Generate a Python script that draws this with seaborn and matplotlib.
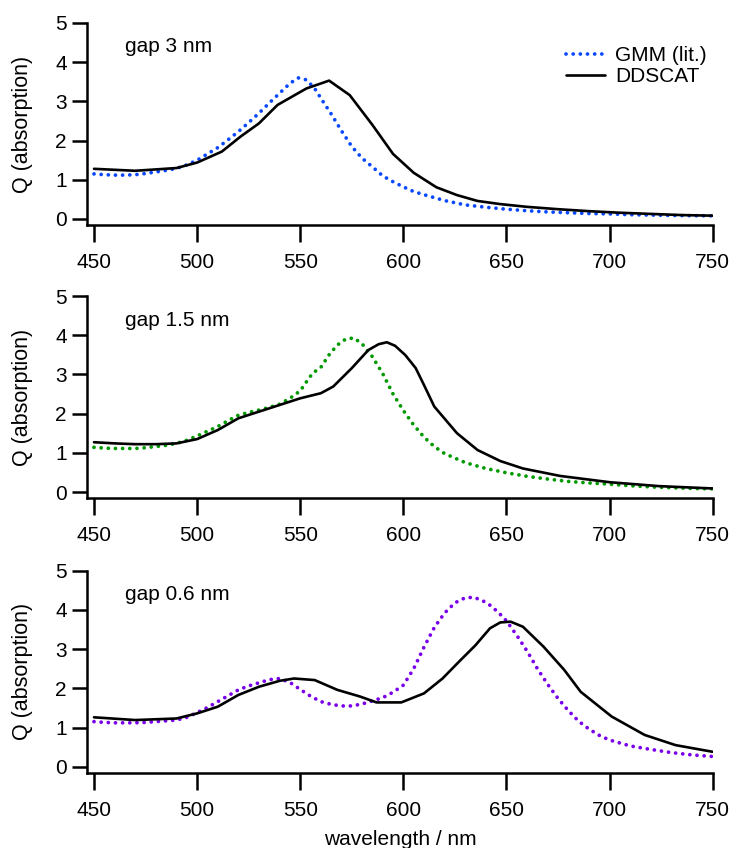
import numpy as np
import pandas as pd
import matplotlib
matplotlib.use("Agg")
import matplotlib.pyplot as plt
import seaborn as sns

# ---------------- data ----------------
gaps = ["gap 3 nm", "gap 1.5 nm", "gap 0.6 nm"]
gmm_colors = ["#0a48ff", "#009a00", "#7a00ea"]

# panel 1 (gap 3 nm)
gmm1_wl = [450, 455, 460, 465, 470, 475, 480, 485, 490, 495, 500, 505, 510, 515, 520, 525,
           530, 535, 540, 545, 549, 553, 557, 561, 565, 570, 575, 580, 585, 590, 595, 600,
           605, 610, 620, 630, 640, 650, 660, 670, 680, 690, 700, 710, 720, 730, 740, 750]
gmm1_q = [1.15, 1.13, 1.12, 1.12, 1.13, 1.16, 1.20, 1.24, 1.29, 1.38, 1.50, 1.66, 1.82, 2.02,
          2.23, 2.46, 2.70, 2.96, 3.21, 3.46, 3.60, 3.55, 3.33, 3.00, 2.68, 2.25, 1.85, 1.55,
          1.33, 1.10, 0.95, 0.82, 0.70, 0.62, 0.47, 0.36, 0.30, 0.25, 0.21, 0.18, 0.16, 0.14,
          0.13, 0.11, 0.10, 0.09, 0.085, 0.08]
dd1_wl = [450, 470, 490, 500, 512, 521, 530, 539, 553, 564, 574, 585, 595, 605, 616, 626,
          636, 647, 660, 675, 690, 705, 720, 735, 750]
dd1_q = [1.28, 1.23, 1.30, 1.44, 1.72, 2.10, 2.44, 2.91, 3.33, 3.53, 3.16, 2.40, 1.66, 1.18,
         0.81, 0.61, 0.46, 0.38, 0.31, 0.25, 0.20, 0.16, 0.13, 0.10, 0.085]

# panel 2 (gap 1.5 nm)
gmm2_wl = [450, 455, 460, 465, 470, 475, 480, 485, 490, 495, 500, 505, 510, 515, 520, 525,
           530, 535, 540, 545, 550, 553, 556, 560, 564, 568, 572, 576, 580, 585, 590, 595,
           600, 605, 610, 615, 620, 630, 640, 650, 660, 670, 680, 690, 700, 710, 720, 730,
           740, 750]
gmm2_q = [1.14, 1.12, 1.11, 1.11, 1.11, 1.13, 1.16, 1.19, 1.24, 1.32, 1.43, 1.55, 1.67, 1.82,
          1.96, 2.03, 2.09, 2.16, 2.24, 2.39, 2.58, 2.81, 3.03, 3.18, 3.50, 3.75, 3.90, 3.93,
          3.78, 3.45, 3.02, 2.50, 2.08, 1.71, 1.40, 1.16, 0.98, 0.75, 0.60, 0.49, 0.40, 0.33,
          0.27, 0.23, 0.20, 0.16, 0.13, 0.11, 0.09, 0.08]
dd2_wl = [450, 460, 470, 480, 490, 500, 510, 520, 530, 540, 550, 560, 566, 575, 583, 588,
          592, 596, 601, 606, 610, 615, 626, 636, 647, 658, 676, 700, 724, 750]
dd2_q = [1.27, 1.24, 1.22, 1.22, 1.24, 1.35, 1.58, 1.88, 2.05, 2.22, 2.39, 2.52, 2.69, 3.16,
         3.62, 3.77, 3.82, 3.73, 3.49, 3.16, 2.73, 2.18, 1.50, 1.07, 0.79, 0.60, 0.41, 0.25,
         0.15, 0.09]

# panel 3 (gap 0.6 nm)
gmm3_wl = [450, 455, 460, 465, 470, 475, 480, 485, 490, 495, 500, 505, 510, 515, 520, 525,
           530, 535, 540, 545, 550, 555, 560, 565, 570, 575, 580, 585, 590, 595, 600, 605,
           610, 615, 620, 625, 630, 634, 638, 642, 646, 650, 655, 660, 665, 670, 675, 680,
           685, 690, 695, 700, 710, 720, 730, 740, 750]
gmm3_q = [1.15, 1.13, 1.12, 1.12, 1.12, 1.13, 1.15, 1.17, 1.19, 1.26, 1.38, 1.51, 1.66, 1.81,
          1.96, 2.06, 2.14, 2.22, 2.25, 2.15, 1.97, 1.80, 1.66, 1.59, 1.55, 1.55, 1.60, 1.68,
          1.76, 1.90, 2.08, 2.50, 3.05, 3.55, 3.92, 4.18, 4.31, 4.32, 4.25, 4.12, 3.94, 3.72,
          3.35, 2.95, 2.50, 2.10, 1.74, 1.43, 1.16, 0.96, 0.80, 0.68, 0.53, 0.44, 0.36, 0.30,
          0.26]
dd3_wl = [450, 470, 490, 500, 510, 520, 530, 540, 547, 557, 568, 579, 587, 599, 610, 619,
          627, 635, 642, 647, 652, 658, 668, 678, 686, 701, 717, 732, 750]
dd3_q = [1.26, 1.19, 1.23, 1.36, 1.53, 1.83, 2.04, 2.19, 2.25, 2.21, 1.96, 1.79, 1.64, 1.64,
         1.87, 2.25, 2.68, 3.10, 3.53, 3.68, 3.70, 3.57, 3.06, 2.47, 1.91, 1.28, 0.81, 0.55,
         0.38]

gmm_sets = [(gmm1_wl, gmm1_q), (gmm2_wl, gmm2_q), (gmm3_wl, gmm3_q)]
dd_sets = [(dd1_wl, dd1_q), (dd2_wl, dd2_q), (dd3_wl, dd3_q)]

x_ticks = [450, 500, 550, 600, 650, 700, 750]
y_ticks = [0, 1, 2, 3, 4, 5]
legend_labels = ["GMM (lit.)", "DDSCAT"]

# ---------------- style ----------------
sns.set_theme(style="ticks")
plt.rcParams["font.family"] = ["Liberation Sans", "DejaVu Sans"]
FS = 15
plt.rcParams.update({"font.size": FS, "text.color": "black", "axes.labelcolor": "black",
                     "xtick.color": "black", "ytick.color": "black"})

W, H = 732, 848
fig = plt.figure(figsize=(W / 100, H / 100), dpi=100)

left_px, right_px = 87, 712.7
tops_px = [23, 296, 570.7]
zero_px = [219, 492, 766.7]
per_unit = 39.2
DOTS = (0.01, 1.9)

for i in range(3):
    ymin = -0.15
    top = tops_px[i]
    bottom = zero_px[i] + 0.15 * per_unit
    ax = fig.add_axes([left_px / W, (H - bottom) / H,
                       (right_px - left_px) / W, (bottom - top) / H])
    gwl, gq = gmm_sets[i]
    dwl, dq = dd_sets[i]
    df_g = pd.DataFrame({"wl": gwl, "q": gq})
    df_d = pd.DataFrame({"wl": dwl, "q": dq})
    sns.lineplot(data=df_g, x="wl", y="q", ax=ax, color=gmm_colors[i], lw=2.7,
                 label=legend_labels[0], sort=False)
    line_g = ax.lines[-1]
    line_g.set_dashes(DOTS)
    line_g.set_dash_capstyle("round")
    sns.lineplot(data=df_d, x="wl", y="q", ax=ax, color="black", lw=1.9,
                 label=legend_labels[1], sort=False)

    x_lo = 450 - (94 - left_px) / 2.063
    ax.set_xlim(x_lo, 750)
    ax.set_ylim(ymin, 5)
    ax.set_xticks(x_ticks)
    ax.set_yticks(y_ticks)
    ax.set_xticklabels([str(t) for t in x_ticks])
    ax.set_yticklabels([str(t) for t in y_ticks])
    for s in ["top", "right"]:
        ax.spines[s].set_visible(False)
    for s in ["left", "bottom"]:
        ax.spines[s].set_linewidth(1.8)
        ax.spines[s].set_color("black")
    ax.tick_params(axis="x", length=12, width=1.8, pad=8.5, labelsize=FS, colors="black")
    ax.tick_params(axis="y", length=10.5, width=1.8, pad=4, labelsize=FS, colors="black")
    ax.set_ylabel("Q (absorption)", fontsize=15.5)
    ax.yaxis.set_label_coords(-0.086, 0.5)
    ax.set_xlabel("wavelength / nm" if i == 2 else "", fontsize=FS, labelpad=7.5)
    ax.text(0.0607, 1 - 29.5 / (bottom - top), gaps[i], transform=ax.transAxes,
            fontsize=FS, va="baseline", ha="left")
    if i == 0:
        leg = ax.legend(loc="upper right", bbox_to_anchor=(0.99, 0.885), frameon=False,
                        borderaxespad=0, borderpad=0, labelspacing=0.1,
                        handlelength=1.85, handletextpad=0.48, fontsize=FS)
        hl = leg.get_lines()
        hl[0].set_dashes(DOTS)
        hl[0].set_dash_capstyle("round")
    else:
        lg = ax.get_legend()
        if lg is not None:
            lg.remove()
    ax.set_facecolor("white")

fig.savefig("out.png", dpi=100, facecolor="white")
